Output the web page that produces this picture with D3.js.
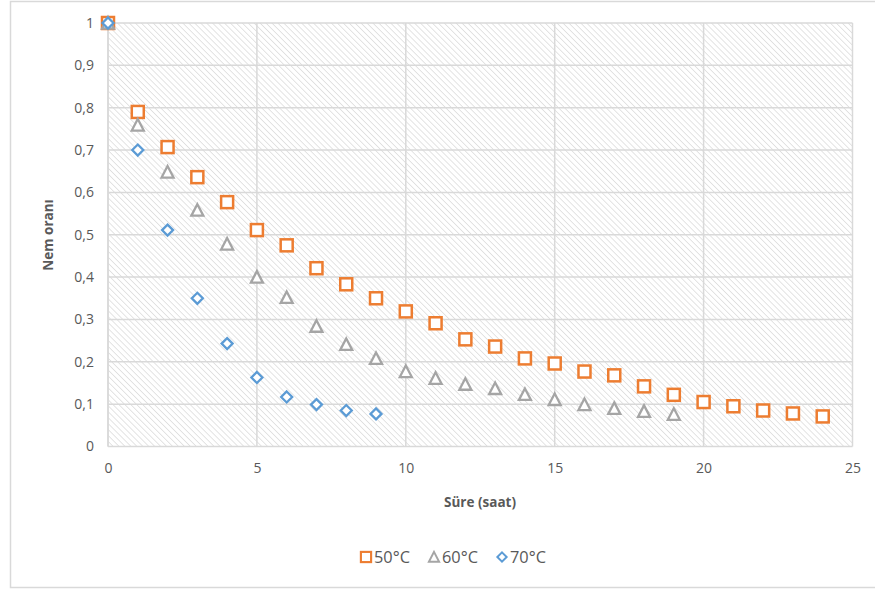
<!DOCTYPE html>
<html><head><meta charset="utf-8">
<script src="https://cdn.jsdelivr.net/npm/d3@7"></script>
<style>body{margin:0;background:#fff;} text{font-family:"Open Sans","Liberation Sans",sans-serif;}</style>
</head><body>
<svg id="c" width="875" height="590"></svg>
<script>
const hours = d3.range(0, 25);
const series50 = [1.0,0.790,0.707,0.636,0.577,0.511,0.475,0.421,0.383,0.350,0.319,0.291,0.253,0.236,0.208,0.196,0.177,0.168,0.142,0.122,0.105,0.095,0.085,0.078,0.071];
const series60 = [1.0,0.759,0.648,0.558,0.478,0.400,0.352,0.284,0.241,0.208,0.177,0.161,0.147,0.137,0.123,0.111,0.099,0.090,0.083,0.076];
const series70 = [1.0,0.700,0.511,0.350,0.243,0.163,0.117,0.099,0.085,0.077];
const xTicks = [0,5,10,15,20,25];
const yTicks = [0,0.1,0.2,0.3,0.4,0.5,0.6,0.7,0.8,0.9,1];
const seriesNames = ["50°C","60°C","70°C"];
const colors = ["#ED7D31","#A5A5A5","#5B9BD5"];

const svg = d3.select("#c");
const L=108, R=852.5, T=23, B=446.5;
const x = d3.scaleLinear().domain([0,25]).range([L,R]);
const y = d3.scaleLinear().domain([0,1]).range([B,T]);

// outer border
svg.append("rect").attr("x",10.5).attr("y",1.5).attr("width",880).attr("height",586).attr("fill","#fff").attr("stroke","#d9d9d9").attr("stroke-width",1.5);

// hatch pattern
const defs = svg.append("defs");
const pat = defs.append("pattern").attr("id","hatch").attr("patternUnits","userSpaceOnUse")
  .attr("width",4.2).attr("height",4.2).attr("patternTransform","rotate(45)");
pat.append("rect").attr("width",4.2).attr("height",4.2).attr("fill","#fff");
pat.append("line").attr("x1",0).attr("y1",0).attr("x2",4.2).attr("y2",0).attr("stroke","#d9d9d9").attr("stroke-width",1.4);

svg.append("rect").attr("x",L).attr("y",T).attr("width",R-L).attr("height",B-T).attr("fill","url(#hatch)");

// gridlines
const g = svg.append("g");
g.selectAll(".hg").data(yTicks).enter().append("line")
  .attr("x1",L).attr("x2",R).attr("y1",d=>y(d)).attr("y2",d=>y(d)).attr("stroke","#d9d9d9").attr("stroke-width",1.5);
g.selectAll(".vg").data(xTicks).enter().append("line")
  .attr("y1",T).attr("y2",B).attr("x1",d=>x(d)).attr("x2",d=>x(d)).attr("stroke","#d9d9d9").attr("stroke-width",1.5);
svg.append("line").attr("x1",L).attr("x2",L).attr("y1",T).attr("y2",B).attr("stroke","#d9d9d9").attr("stroke-width",1.5);

// axes via d3
const fmt = d => d===0?"0":(d===1?"1":d3.format(".1f")(d).replace(".",","));
const yAxis = svg.append("g").attr("transform",`translate(${L},0)`)
  .call(d3.axisLeft(y).tickValues(yTicks).tickFormat(fmt).tickSize(0).tickPadding(14));
const xAxis = svg.append("g").attr("transform",`translate(0,${B})`)
  .call(d3.axisBottom(x).tickValues(xTicks).tickFormat(d3.format("d")).tickSize(0).tickPadding(17));
[yAxis,xAxis].forEach(a=>{a.select(".domain").remove();a.selectAll("text").attr("fill","#595959").style("font-size","14px").style("font-family","'Open Sans',sans-serif");});

// axis titles
svg.append("text").attr("x",480).attr("y",507).attr("text-anchor","middle").attr("fill","#595959")
  .style("font-size","13.5px").style("font-weight","bold").text("Süre (saat)");
svg.append("text").attr("transform","translate(53,235) rotate(-90)").attr("text-anchor","middle").attr("fill","#595959")
  .style("font-size","13.5px").style("font-weight","bold").text("Nem oranı");

// markers
function marker(sel, type, color){
  if(type===0){
    sel.append("rect").attr("x",-6).attr("y",-6).attr("width",12).attr("height",12)
      .attr("fill","#fff").attr("stroke",color).attr("stroke-width",2.5);
  } else if(type===1){
    sel.append("path").attr("d","M0,-6 L6,5.5 L-6,5.5 Z").attr("fill","#fff").attr("stroke",color).attr("stroke-width",2.3).attr("stroke-linejoin","miter");
  } else {
    sel.append("path").attr("d","M0,-5.5 L5.5,0 L0,5.5 L-5.5,0 Z").attr("fill","#fff").attr("stroke",color).attr("stroke-width",2.3);
  }
}
const allSeries = [series50, series60, series70];
allSeries.forEach((s,i)=>{
  svg.append("g").selectAll("g").data(s).enter().append("g")
    .attr("transform",(d,j)=>`translate(${x(hours[j])},${y(d)})`)
    .each(function(){ marker(d3.select(this), i, colors[i]); });
});

// legend
const legX = [366, 434, 502];
seriesNames.forEach((n,i)=>{
  const lg = svg.append("g").attr("transform",`translate(${legX[i]},557)`);
  const m = lg.append("g").attr("transform","scale(0.85)");
  marker(m, i, colors[i]);
  lg.append("text").attr("x",8).attr("y",6).attr("fill","#595959").style("font-size","15.5px").attr("textLength",36).attr("lengthAdjust","spacingAndGlyphs").text(n);
});
</script>
</body></html>
